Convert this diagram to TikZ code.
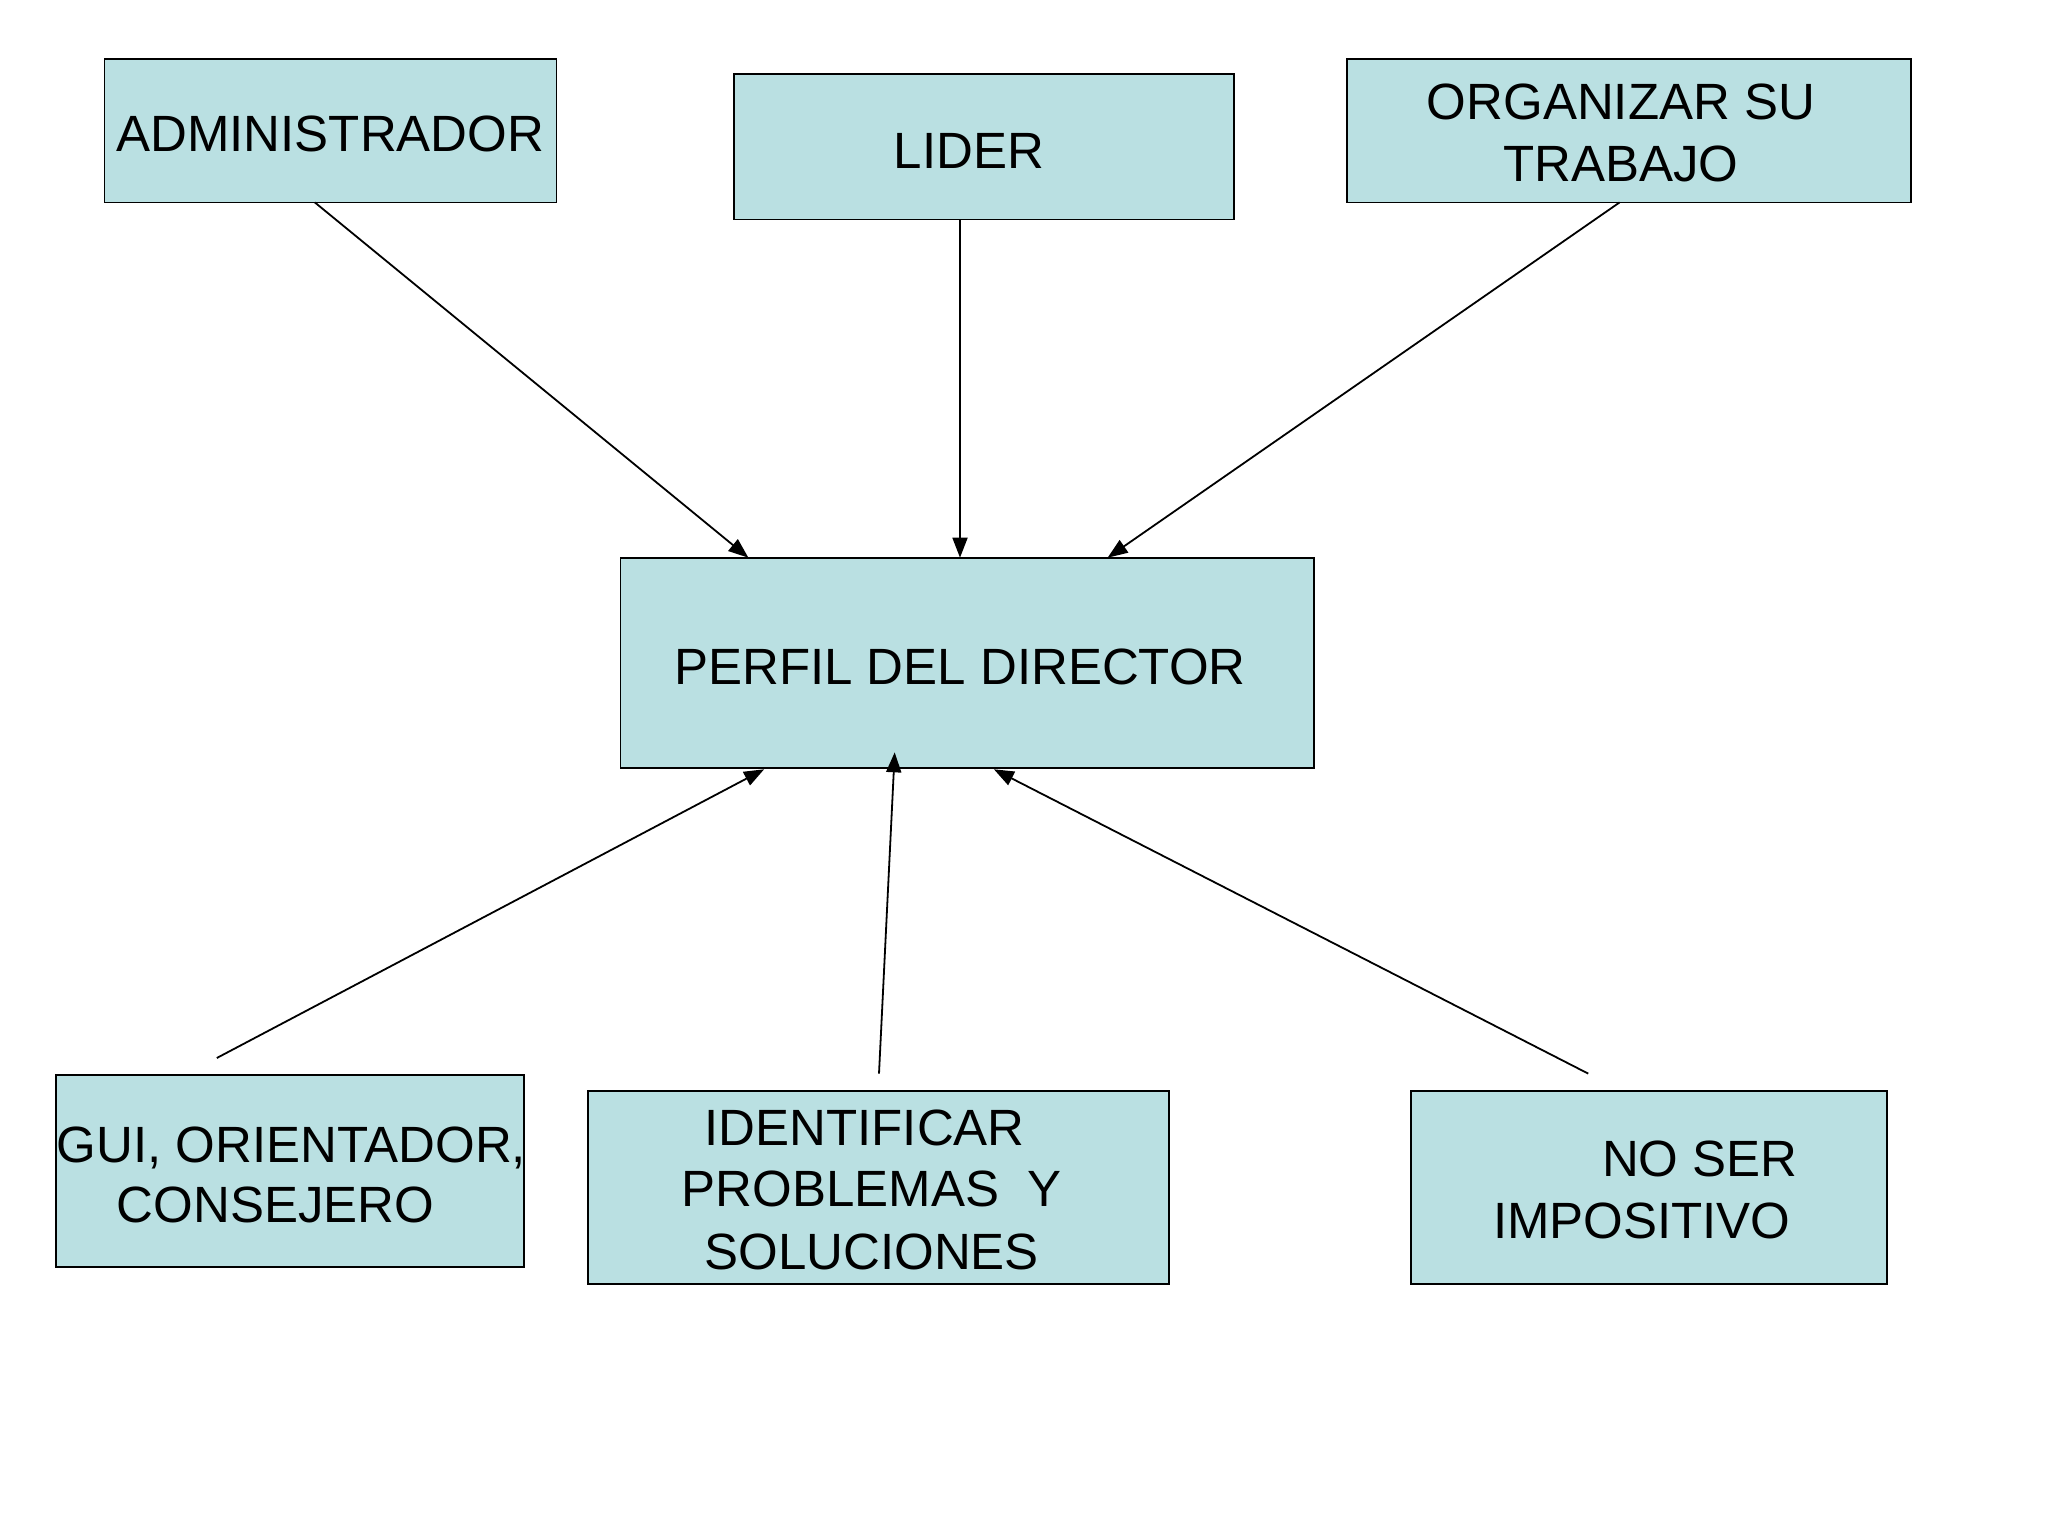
\documentclass[tikz,border=0pt]{standalone}
\usepackage{fontspec}
\setmainfont{Liberation Sans}
\usetikzlibrary{arrows.meta}
\definecolor{boxfill}{RGB}{186,224,226}
\begin{document}
\begin{tikzpicture}[x=1pt,y=-1pt,
  box/.style={draw=black, fill=boxfill, line width=1.8pt, rectangle, inner sep=0pt},
  lbl/.style={font=\fontsize{51}{61}\selectfont, inner sep=0pt, anchor=base},
  arr/.style={line width=1.8pt, -{Triangle[length=20pt,width=15pt]}}]
\useasboundingbox[fill=white] (0,0) rectangle (2048,1536);
% boxes
\node[box, minimum width=451.9pt, minimum height=143.6pt] (admin) at (330.45,130.6) {};
\node[box, minimum width=500.3pt, minimum height=145pt] (lider) at (984.15,146.9) {};
\node[box, minimum width=564.2pt, minimum height=143.6pt] (org) at (1628.7,130.6) {};
\node[box, minimum width=693.6pt, minimum height=210.3pt] (perfil) at (967.2,662.85) {};
\node[box, minimum width=467.5pt, minimum height=192pt] (gui) at (289.95,1170.9) {};
\node[box, minimum width=581.3pt, minimum height=193.3pt] (ident) at (878.35,1187.25) {};
\node[box, minimum width=476.7pt, minimum height=193.3pt] (noser) at (1648.95,1187.25) {};
% labels
\node[lbl] (tadmin) at (330.4,151) {ADMINISTRADOR};
\node[lbl] (tlider) at (969,168) {LIDER};
\node[lbl] (torg1) at (1621,120) {ORGANIZAR SU};
\node[lbl] (torg2) at (1621,181) {TRABAJO};
\node[lbl] (tperfil) at (960,684) {PERFIL DEL DIRECTOR};
\node[lbl] (tgui1) at (291.3,1162) {GUI, ORIENTADOR,};
\node[lbl] (tgui2) at (275.6,1222) {CONSEJERO};
\node[lbl] (tid1) at (864.6,1145) {IDENTIFICAR};
\node[lbl] (tid2) at (871.8,1206.5) {PROBLEMAS\ \ Y};
\node[lbl] (tid3) at (871.8,1269) {SOLUCIONES};
\node[lbl] (tns1) at (1699.9,1176.5) {NO SER};
\node[lbl] (tns2) at (1641.8,1238) {IMPOSITIVO};
% connector end points
\coordinate (a1s) at (314.8,202.4);
\coordinate (a1e) at (748.4,557.7);
\coordinate (a2s) at (960,219.4);
\coordinate (a2e) at (960,557.7);
\coordinate (a3s) at (1619.6,202.4);
\coordinate (a3e) at (1107.6,557.7);
\coordinate (b1s) at (216.8,1058);
\coordinate (b1e) at (764.1,769.3);
\coordinate (b2s) at (879,1073.6);
\coordinate (b2e) at (894.7,752.3);
\coordinate (b3s) at (1588.2,1073.6);
\coordinate (b3e) at (993.9,769.3);
% connectors
\draw[arr] (a1s) -- (a1e);
\draw[arr] (a2s) -- (a2e);
\draw[arr] (a3s) -- (a3e);
\draw[arr] (b1s) -- (b1e);
\draw[arr] (b2s) -- (b2e);
\draw[arr] (b3s) -- (b3e);
\end{tikzpicture}
\end{document}
